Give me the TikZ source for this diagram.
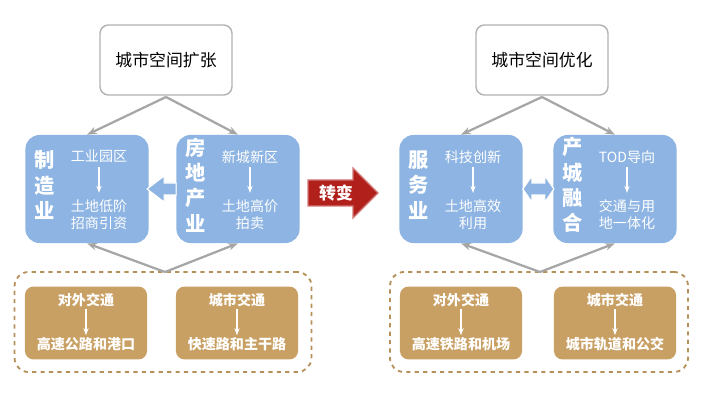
\documentclass[tikz,border=0pt]{standalone}
\usepackage{fontspec}
\setmainfont{Noto Sans CJK SC}
\usetikzlibrary{shapes,arrows,arrows.meta,positioning,calc}
\definecolor{boxblue}{RGB}{141,180,226}
\definecolor{boxbrown}{RGB}{201,160,99}
\definecolor{turnred}{RGB}{178,32,28}
\tikzset{
    topbox/.style={draw=gray!60, line width=1pt, fill=white, rounded corners=6pt, minimum width=3.3cm, minimum height=1.75cm, font=\large},
    indbox/.style={fill=boxblue, rounded corners=10pt, minimum width=3.08cm, minimum height=2.7cm},
    trbox/.style={fill=boxbrown, rounded corners=6pt, minimum width=3.05cm, minimum height=1.82cm},
    dashbox/.style={draw=boxbrown!90!black, dashed, line width=1.3pt, rounded corners=10pt},
    side/.style={text=white, font=\Large\bfseries, align=center, inner sep=0pt},
    sub/.style={text=white, font=\normalsize, align=center, inner sep=1pt},
    trtext/.style={text=white, font=\normalsize\bfseries, align=center, inner sep=1pt},
    flow/.style={gray!70, line width=1.6pt, -{Stealth[length=7pt]}},
    small/.style={white, line width=1pt, -{Stealth[length=5pt]}},
}
\begin{document}
\begin{tikzpicture}[x=0.025cm, y=-0.025cm]
    \useasboundingbox (0,0) rectangle (710,418);

    % Top boxes
    \node[topbox] (expand) at (166,60) {城市空间扩张};
    \node[topbox] (optim) at (542,60) {城市空间优化};

    % Industry boxes
    \node[indbox] (manu) at (87,189) {};
    \node[indbox] (estate) at (238,189) {};
    \node[indbox] (serv) at (461,189) {};
    \node[indbox] (integ) at (615,189) {};

    % Dashed transport frames
    \node[dashbox, minimum width=7.42cm, minimum height=2.5cm] (frameL) at (163,322) {};
    \node[dashbox, minimum width=7.45cm, minimum height=2.5cm] (frameR) at (539,322) {};
    \coordinate (hubL) at (165,272);
    \coordinate (hubR) at (540,272);
    \coordinate (topL) at (166,97);
    \coordinate (topR) at (542,97);

    % Flow arrows
    \foreach \t/\b in {topL/manu, topL/estate, topR/serv, topR/integ}
        \draw[flow] (\t) -- (\b.north);
    \foreach \h/\b in {hubL/manu, hubL/estate, hubR/serv, hubR/integ}
        \draw[flow] (\h) -- (\b.south);

    % Texts in blue boxes
    \foreach \b/\s/\u/\l in {manu/制\\造\\业/工业园区/土地低阶\\招商引资,
                          estate/房\\地\\产\\业/新城新区/土地高价\\拍卖,
                          serv/服\\务\\业/科技创新/土地高效\\利用,
                          integ/产\\城\\融\\合/TOD导向/交通与用\\地一体化}{
        \node[side] (\b s) at ($(\b.west)+(20,-4)$) {\s};
        \node[sub] (\b u) at ($(\b.north)+(12,22)$) {\u};
        \node[sub] (\b l) at ($(\b.north)+(12,80)$) {\l};
        \draw[small] ($(\b u.south)+(0,2)$) -- ++(0,26);
    }

    % Block arrows between blue boxes
    \draw[fill=boxblue, draw=white, line width=0.8pt]
        (estate.west) ++(0,-6) -- ++(-12,0) -- ++(0,-7) -- ++(-17,13) -- ++(17,13) -- ++(0,-7) -- ++(12,0) -- cycle;
    \draw[fill=boxblue, draw=white, line width=0.8pt]
        (serv.east) -- ++(9,-13) -- ++(0,7) -- ++(13,0) -- ++(0,-7) -- ++(9,13)
        -- ++(-9,13) -- ++(0,-7) -- ++(-13,0) -- ++(0,7) -- cycle;

    % Turn arrow
    \draw[fill=turnred, draw=turnred!60, line width=0.8pt]
        (308,180) -- (353,180) -- (353,168) -- (378,193) -- (353,218) -- (353,206) -- (308,206) -- cycle;
    \node[text=white, font=\large\bfseries] (turn) at (336,193) {转变};

    % Transport boxes
    \node[trbox] (extL) at (86,323) {};
    \node[trbox] (cityL) at (237,323) {};
    \node[trbox] (extR) at (461,323) {};
    \node[trbox] (cityR) at (615,323) {};
    \foreach \b/\u/\l in {extL/对外交通/高速公路和港口, cityL/城市交通/快速路和主干路,
                          extR/对外交通/高速铁路和机场, cityR/城市交通/城市轨道和公交}{
        \node[trtext] (\b u) at ($(\b.north)+(0,14)$) {\u};
        \node[trtext] (\b l) at ($(\b.south)+(0,-16)$) {\l};
        \draw[small] (\b u.south) -- (\b l.north);
    }
\end{tikzpicture}
\end{document}
